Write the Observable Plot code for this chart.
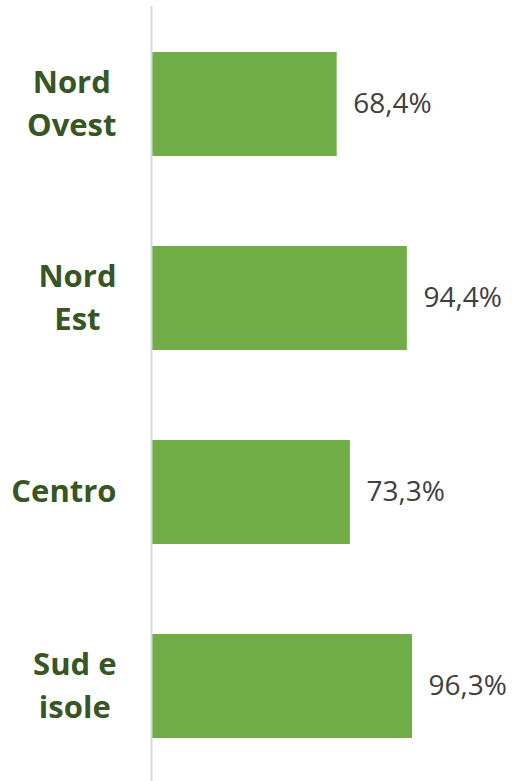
<!DOCTYPE html>
<html><head><meta charset="utf-8">
<script src="https://cdn.jsdelivr.net/npm/d3@7"></script>
<script src="https://cdn.jsdelivr.net/npm/@observablehq/plot@0.6"></script>
<style>body{margin:0;background:#fff}</style>
</head><body>
<script>
const categories = ["Nord\nOvest", "Nord\nEst", "Centro", "Sud e\nisole"];
const values = [68.4, 94.4, 73.3, 96.3];
const valueLabels = ["68,4%", "94,4%", "73,3%", "96,3%"];

const data = categories.map((c, i) => ({cat: c, value: values[i], label: valueLabels[i]}));

const chart = Plot.plot({
  width: 512, height: 781,
  marginLeft: 152, marginRight: 90, marginTop: 6, marginBottom: 0,
  style: {background: "#fff", fontFamily: "'Open Sans', sans-serif"},
  x: {domain: [0, 100], axis: null},
  y: {domain: categories, axis: null, paddingInner: 0.466, paddingOuter: 0.223, align: 0.517},
  marks: [
    Plot.barX(data, {y: "cat", x: "value", fill: "#70ad47"}),
    Plot.ruleX([0], {stroke: "#d9d9d9", strokeWidth: 2, dx: -1}),
    Plot.text(data, {y: "cat", x: 0, text: "cat", dx: -36, dy: -4, textAnchor: "middle", fill: "#375623",
      fontWeight: "bold", fontSize: 31, lineHeight: 1.38, className: "cat-labels"}),
    Plot.text(data, {y: "cat", x: "value", text: "label", dx: 16, textAnchor: "start",
      fill: "#404040", fontSize: 28})
  ]
});
document.body.append(chart);

// Right-align each label block while centering its lines within the block
document.querySelectorAll(".cat-labels text").forEach(t => {
  const spans = t.querySelectorAll("tspan");
  const w = spans.length ? Math.max(...Array.from(spans, s => s.getComputedTextLength())) : t.getComputedTextLength();
  const tr = t.getAttribute("transform") || "";
  t.setAttribute("transform", tr + ` translate(${-w / 2},0)`);
});
</script>
</body></html>
